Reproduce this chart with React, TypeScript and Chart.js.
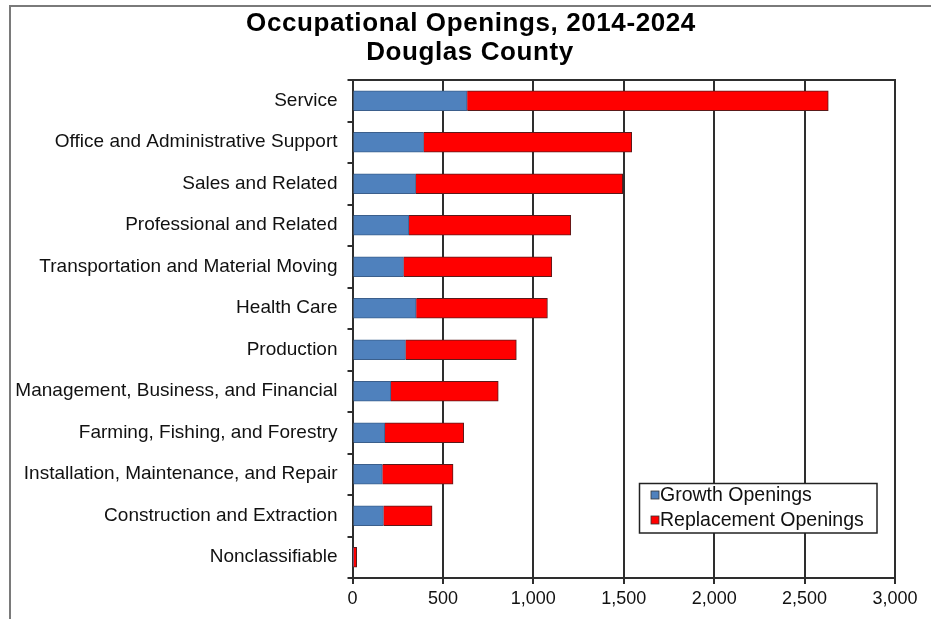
import React, { useEffect, useRef } from "react";
import { Chart, registerables } from "chart.js";

Chart.register(...registerables);

const categories = [
  "Service",
  "Office and Administrative Support",
  "Sales and Related",
  "Professional and Related",
  "Transportation and Material Moving",
  "Health Care",
  "Production",
  "Management, Business, and Financial",
  "Farming, Fishing, and Forestry",
  "Installation, Maintenance, and Repair",
  "Construction and Extraction",
  "Nonclassifiable",
];

const growthOpenings = [634, 393, 349, 312, 282, 352, 293, 212, 179, 165, 171, 4];
const replacementOpenings = [1997, 1151, 1145, 895, 820, 726, 613, 594, 436, 391, 269, 19];

const xTicks = [0, 500, 1000, 1500, 2000, 2500, 3000];

const titleLines = ["Occupational Openings, 2014-2024", "Douglas County"];
const seriesNames = ["Growth Openings", "Replacement Openings"];
const seriesColors = ["#4F81BD", "#FF0000"];

const FONT = "'Liberation Sans', Arial, sans-serif";

const decorPlugin = {
  id: "decor",
  beforeDraw(chart: any) {
    const ctx = chart.ctx;
    ctx.save();
    ctx.fillStyle = "#ffffff";
    ctx.fillRect(0, 0, chart.width, chart.height);
    // outer frame
    ctx.strokeStyle = "#7a7a7a";
    ctx.lineWidth = 2;
    ctx.strokeRect(10, 6, 2000, 2000);
    // title
    ctx.fillStyle = "#000";
    ctx.font = `bold 26px ${FONT}`;
    try { (ctx as any).letterSpacing = "0.6px"; } catch (e) {}
    ctx.textAlign = "center";
    ctx.textBaseline = "alphabetic";
    ctx.fillText(titleLines[0], 471, 31);
    ctx.fillText(titleLines[1], 470, 60);
    try { (ctx as any).letterSpacing = "0px"; } catch (e) {}
    ctx.restore();
  },
  afterDraw(chart: any) {
    const ctx = chart.ctx;
    const a = chart.chartArea;
    ctx.save();
    // plot border top/right
    ctx.strokeStyle = "#2e2e2e";
    ctx.lineWidth = 2;
    ctx.beginPath();
    ctx.moveTo(a.left, a.top);
    ctx.lineTo(a.right, a.top);
    ctx.lineTo(a.right, a.bottom);
    ctx.stroke();
    // legend
    const bx = 639.5, by = 483.5, bw = 237.5, bh = 49.5;
    ctx.fillStyle = "#ffffff";
    ctx.fillRect(bx, by, bw, bh);
    ctx.strokeStyle = "#222";
    ctx.lineWidth = 1.5;
    ctx.strokeRect(bx, by, bw, bh);
    ctx.font = `19.5px ${FONT}`;
    ctx.textAlign = "left";
    ctx.textBaseline = "middle";
    const rows = [495, 520];
    seriesNames.forEach((name, i) => {
      ctx.fillStyle = seriesColors[i];
      ctx.fillRect(651, rows[i] - 4, 8, 8);
      ctx.strokeStyle = "#333";
      ctx.lineWidth = 0.8;
      ctx.strokeRect(651, rows[i] - 4, 8, 8);
      ctx.fillStyle = "#111";
      ctx.fillText(name, 660, rows[i] + 1);
    });
    ctx.restore();
  },
};

export default function App() {
  const ref = useRef<HTMLCanvasElement | null>(null);

  useEffect(() => {
    document.body.style.margin = "0";
    const canvas = ref.current!;
    const chart = new Chart(canvas, {
      type: "bar",
      data: {
        labels: categories,
        datasets: [
          {
            label: seriesNames[0],
            data: growthOpenings,
            backgroundColor: seriesColors[0],
            borderColor: "#3b5f8c",
            borderWidth: 1,
            barThickness: 20,
          },
          {
            label: seriesNames[1],
            data: replacementOpenings,
            backgroundColor: seriesColors[1],
            borderColor: "#5a1a1a",
            borderWidth: 1,
            barThickness: 20,
          },
        ],
      },
      options: {
        indexAxis: "y",
        responsive: false,
        animation: false,
        devicePixelRatio: 1,
        layout: { padding: { left: 0, top: 80, right: 36, bottom: 0 } },
        plugins: {
          legend: { display: false },
          tooltip: { enabled: false },
          title: { display: false },
        },
        scales: {
          x: {
            type: "linear",
            stacked: true,
            min: 0,
            max: 3000,
            afterBuildTicks(scale: any) {
              scale.ticks = xTicks.map((v) => ({ value: v }));
            },
            afterFit(scale: any) {
              scale.height = 41;
            },
            ticks: {
              color: "#111",
              font: { family: FONT, size: 18 },
              padding: 4,
              maxRotation: 0,
              callback: (v: any) => Number(v).toLocaleString("en-US"),
            },
            grid: {
              color: "#2e2e2e",
              lineWidth: 2,
              tickLength: 6,
              drawOnChartArea: true,
              drawTicks: true,
            },
            border: { color: "#2e2e2e", width: 2 },
          },
          y: {
            type: "category",
            stacked: true,
            afterFit(scale: any) {
              scale.width = 352.5;
            },
            ticks: {
              color: "#111",
              font: { family: FONT, size: 19 },
              padding: 10,
            },
            grid: {
              offset: true,
              drawOnChartArea: false,
              drawTicks: true,
              tickLength: 5,
              color: "#2e2e2e",
              lineWidth: 2,
            },
            border: { color: "#2e2e2e", width: 2 },
          },
        },
      } as any,
      plugins: [decorPlugin],
    });
    return () => chart.destroy();
  }, []);

  return (
    <div style={{ position: "absolute", left: 0, top: 0, width: 931, height: 619 }}>
      <canvas ref={ref} width={931} height={619} style={{ width: 931, height: 619 }} />
    </div>
  );
}
